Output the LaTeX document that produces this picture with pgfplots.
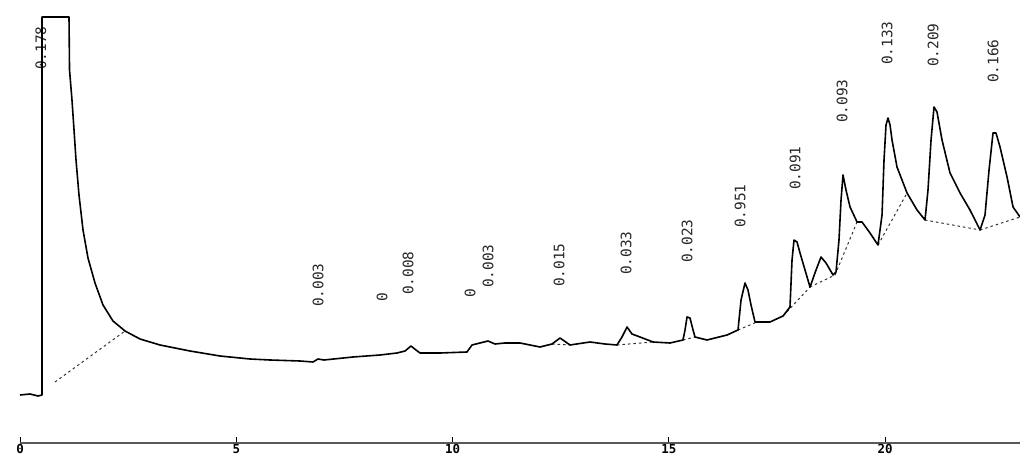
\documentclass[border=0pt]{standalone}
\usepackage{pgfplots}
\pgfplotsset{compat=1.18}
\usepackage{fontspec}
\setmonofont{DejaVu Sans Mono}

% Detector trace: retention time (min) against detector response
\pgfplotstableread{
t y
0.000 48
0.231 49
0.416 47
0.509 48
0.509 426
1.133 426
1.145 373
1.202 343
1.249 313
1.295 283
1.364 248
1.457 213
1.572 185
1.734 160
1.919 138
2.150 122
2.428 112
2.775 104
3.237 98
3.931 92
4.624 87
5.318 84
5.780 83
6.474 82
6.775 81
6.890 84
7.029 83
7.699 86
8.324 88
8.717 90
8.902 92
9.040 97
9.156 93
9.249 90
9.711 90
10.335 91
10.451 98
10.636 100
10.821 102
10.983 99
11.214 100
11.561 100
12.023 96
12.301 99
12.486 105
12.717 98
13.179 101
13.526 99
13.803 98
13.919 106
14.035 116
14.150 109
14.335 106
14.636 101
15.029 100
15.329 103
15.376 113
15.422 126
15.491 125
15.561 113
15.607 106
15.884 103
16.347 108
16.601 113
16.671 143
16.763 160
16.832 153
16.902 138
16.994 121
17.341 121
17.642 127
17.803 136
17.850 183
17.896 203
17.965 201
18.035 190
18.150 173
18.266 156
18.405 173
18.520 186
18.636 180
18.798 168
18.867 171
18.936 203
18.983 243
19.029 268
19.098 253
19.191 236
19.353 221
19.468 221
19.653 210
19.838 198
19.931 228
19.977 283
20.023 318
20.069 325
20.116 318
20.162 303
20.277 276
20.509 250
20.740 233
20.925 223
20.994 253
21.064 303
21.133 336
21.202 331
21.318 303
21.503 270
21.734 250
21.965 233
22.197 213
22.312 228
22.405 273
22.497 310
22.566 310
22.659 296
22.821 266
22.960 236
23.121 226
}\trace

\begin{document}
\begin{tikzpicture}[
  peak/.style={font=\ttfamily\fontsize{14.5}{14.5}\selectfont, rotate=90, anchor=west, inner sep=0pt, text=black!85},
  base/.style={black!80, line width=1bp, dash pattern=on 2.5bp off 3bp},
]
\begin{axis}[
  scale only axis,
  width=1000bp, height=443bp,
  xmin=0, xmax=23.121,
  ymin=0, ymax=443,
  axis x line=bottom,
  axis y line=none,
  axis line style={-, gray!70!black, line width=1.4bp},
  xtick={0,5,10,15,20},
  xticklabels={0,5,10,15,20},
  tick align=inside,
  major tick length=6bp,
  xtick style={black, line width=1bp},
  xticklabel style={font=\ttfamily\bfseries\fontsize{12.5}{12.5}\selectfont, inner sep=0pt, anchor=north, yshift=-1bp},
  clip=false,
]
% integration baselines
\addplot[base] coordinates {(0.809,61) (2.428,112)};
\addplot[base] coordinates {(12.301,99) (12.717,98)};
\addplot[base] coordinates {(13.803,98) (14.636,101)};
\addplot[base] coordinates {(15.329,103) (15.607,106)};
\addplot[base] coordinates {(16.601,113) (17.040,121)};
\addplot[base] coordinates {(17.642,127) (18.266,156)};
\addplot[base] coordinates {(18.266,156) (18.844,168)};
\addplot[base] coordinates {(18.844,168) (19.353,221)};
\addplot[base] coordinates {(19.838,198) (20.509,250)};
\addplot[base] coordinates {(20.925,223) (22.197,213)};
\addplot[base] coordinates {(22.197,213) (23.121,226)};

% peak annotations
\node[peak] at (axis cs:0.480,373) {0.178};
\node[peak] at (axis cs:6.890,136) {0.003};
\node[peak] at (axis cs:8.370,141) {0};
\node[peak] at (axis cs:8.971,148) {0.008};
\node[peak] at (axis cs:10.405,145) {0};
\node[peak] at (axis cs:10.821,155) {0.003};
\node[peak] at (axis cs:12.462,156) {0.015};
\node[peak] at (axis cs:14.012,168) {0.033};
\node[peak] at (axis cs:15.422,180) {0.023};
\node[peak] at (axis cs:16.647,215) {0.951};
\node[peak] at (axis cs:17.919,253) {0.091};
\node[peak] at (axis cs:19.006,320) {0.093};
\node[peak] at (axis cs:20.046,378) {0.133};
\node[peak] at (axis cs:21.110,376) {0.209};
\node[peak] at (axis cs:22.497,360) {0.166};

% detector signal
\addplot[black, line width=1.6bp, line join=round] table[x=t, y=y] {\trace};
\end{axis}
\pgfresetboundingbox
\path[use as bounding box] (-20bp,-12bp) rectangle (1000bp,443bp);
\end{tikzpicture}
\end{document}
